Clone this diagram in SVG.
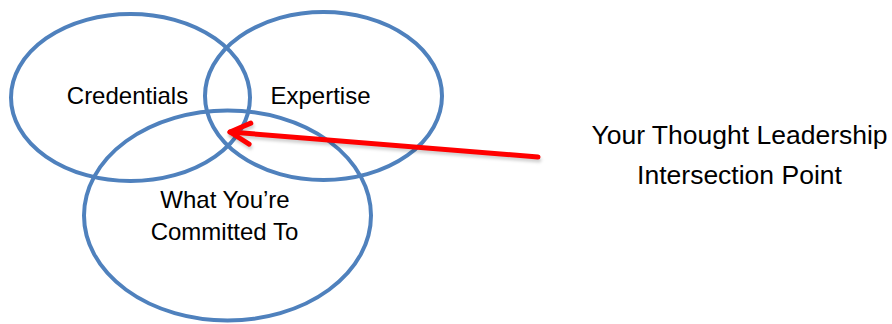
<svg xmlns="http://www.w3.org/2000/svg" width="892" height="324" viewBox="0 0 892 324">
  <style>
    .ring { fill: none; stroke: #4F81BD; stroke-width: 4; }
    .label { font-family: "Liberation Sans", Arial, sans-serif; font-size: 24px; fill: #000; text-anchor: middle; }
    .note { font-family: "Liberation Sans", Arial, sans-serif; font-size: 26.5px; fill: #000; text-anchor: middle; }
    .pointer { fill: none; stroke: #FF0000; stroke-width: 5; stroke-linecap: round; stroke-linejoin: round; }
    .pointer-shadow { fill: none; stroke: #000; stroke-opacity: 0.18; stroke-width: 5; stroke-linecap: round; stroke-linejoin: round; }
  </style>
  <defs>
    <filter id="soft" x="-10%" y="-50%" width="120%" height="200%">
      <feGaussianBlur stdDeviation="1.5"/>
    </filter>
    <marker id="chevron" markerUnits="userSpaceOnUse" markerWidth="30" markerHeight="30" viewBox="-25 -15 30 30" refX="0" refY="0" orient="auto" overflow="visible">
      <path d="M-20,-10.5 L0,0 L-20,10.5" fill="none" stroke="#FF0000" stroke-width="5" stroke-linecap="round" stroke-linejoin="round"/>
    </marker>
    <marker id="chevron-shadow" markerUnits="userSpaceOnUse" markerWidth="30" markerHeight="30" viewBox="-25 -15 30 30" refX="0" refY="0" orient="auto" overflow="visible">
      <path d="M-20,-10.5 L0,0 L-20,10.5" fill="none" stroke="#000" stroke-opacity="0.18" stroke-width="5" stroke-linecap="round" stroke-linejoin="round"/>
    </marker>
  </defs>

  <rect width="892" height="324" fill="#FFFFFF"/>

  <!-- Venn circles -->
  <g id="credentials">
    <ellipse class="ring" cx="130.5" cy="97.5" rx="119.5" ry="83.5"/>
    <text class="label" x="127.5" y="103.5">Credentials</text>
  </g>
  <g id="expertise">
    <ellipse class="ring" cx="323.5" cy="96" rx="118.5" ry="84"/>
    <text class="label" x="320.5" y="103.5">Expertise</text>
  </g>
  <g id="committed">
    <ellipse class="ring" cx="227.5" cy="215.5" rx="143.5" ry="105"/>
    <text class="label" x="225" y="207.5">What You’re</text>
    <text class="label" x="224.5" y="239.5">Committed To</text>
  </g>

  <g id="intersection-note">
    <text class="note" x="739.5" y="143.5">Your Thought Leadership</text>
    <text class="note" x="739.5" y="183.5">Intersection Point</text>
  </g>

  <!-- Pointer to the shared centre -->
  <g id="connectors">
    <line class="pointer-shadow" x1="539" y1="160" x2="231" y2="135" marker-end="url(#chevron-shadow)" filter="url(#soft)"/>
    <line class="pointer" x1="538" y1="157" x2="230" y2="132" marker-end="url(#chevron)"/>
  </g>
</svg>
